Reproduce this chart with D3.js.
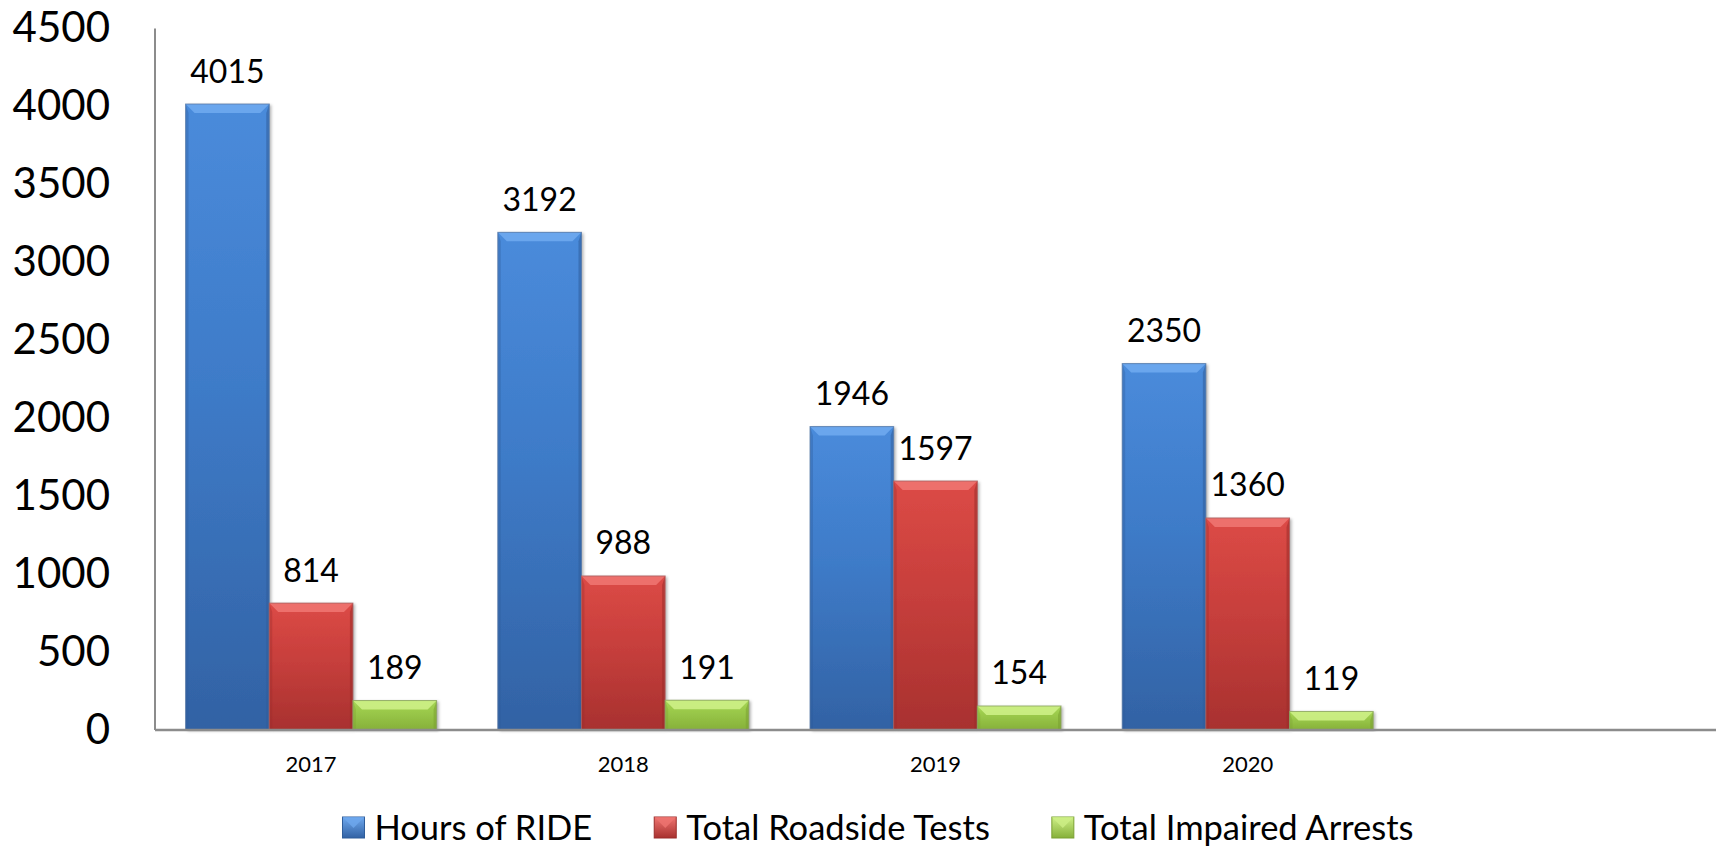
<!DOCTYPE html>
<html>
<head>
<meta charset="utf-8">
<script src="https://cdn.jsdelivr.net/npm/d3@7"></script>
<style>
  html, body { margin: 0; padding: 0; background: #fff; }
  svg { display: block; font-family: Lato, "Open Sans", sans-serif; }
</style>
</head>
<body>
<svg id="chart" width="1716" height="846"></svg>
<script>
// ---- data ----
const categories = ["2017", "2018", "2019", "2020", ""];   // last slot is empty in the original
const seriesNames = ["Hours of RIDE", "Total Roadside Tests", "Total Impaired Arrests"];
const hoursOfRide = [4015, 3192, 1946, 2350];
const roadsideTests = [814, 988, 1597, 1360];
const impairedArrests = [189, 191, 154, 119];
const yTicks = [0, 500, 1000, 1500, 2000, 2500, 3000, 3500, 4000, 4500];

const seriesValues = [hoursOfRide, roadsideTests, impairedArrests];
const palette = [
  { top: "#4a8bdb", mid: "#3e7bc8", bot: "#3262a4", bevel: "#6ea8ee", side: "#2f5d9a", stroke: "#5a7ba6" },
  { top: "#dc4a46", mid: "#c73f3c", bot: "#a8312f", bevel: "#ee7470", side: "#9a2c2a", stroke: "#a86060" },
  { top: "#a6d656", mid: "#98c648", bot: "#86b03a", bevel: "#cdef86", side: "#7aa132", stroke: "#8aa060" }
];

const svg = d3.select("#chart");
const W = 1716, H = 846;
const axisX = 155, baseY = 730, topY = 28.4;

const x = d3.scaleBand().domain(categories).range([axisX, W]).paddingInner(0.196).paddingOuter(0.098);
const xs = d3.scaleBand().domain(seriesNames).range([0, x.bandwidth()]).padding(0);
const y = d3.scaleLinear().domain([0, 4500]).range([baseY, topY]);

// defs: gradients + shadow
const defs = svg.append("defs");
palette.forEach((p, i) => {
  const g = defs.append("linearGradient").attr("id", "grad" + i).attr("x1", 0).attr("y1", 0).attr("x2", 0).attr("y2", 1);
  g.append("stop").attr("offset", "0%").attr("stop-color", p.top);
  g.append("stop").attr("offset", "45%").attr("stop-color", p.mid);
  g.append("stop").attr("offset", "100%").attr("stop-color", p.bot);
  const lg = defs.append("linearGradient").attr("id", "lgrad" + i).attr("x1", 0).attr("y1", 0).attr("x2", 0).attr("y2", 1);
  lg.append("stop").attr("offset", "0%").attr("stop-color", p.bevel);
  lg.append("stop").attr("offset", "100%").attr("stop-color", p.bot);
});
const f = defs.append("filter").attr("id", "shadow").attr("x", "-10%").attr("y", "-10%").attr("width", "130%").attr("height", "120%");
f.append("feDropShadow").attr("dx", 2).attr("dy", 1).attr("stdDeviation", 1.5).attr("flood-color", "#000").attr("flood-opacity", 0.3);

// axes lines
svg.append("line").attr("x1", axisX).attr("x2", axisX).attr("y1", y(4500)).attr("y2", baseY)
  .attr("stroke", "#8c8c8c").attr("stroke-width", 2);

const yAxis = svg.append("g").attr("transform", `translate(${axisX},0)`)
  .call(d3.axisLeft(y).tickValues(yTicks).tickSize(0).tickPadding(45).tickFormat(d3.format("d")));
yAxis.select(".domain").remove();
yAxis.selectAll("text").attr("font-size", 42).attr("fill", "#000").attr("font-family", "Lato, sans-serif");

// bars
const data = [];
categories.forEach((c, ci) => {
  seriesValues.forEach((vals, si) => {
    if (vals[ci] != null) data.push({ cat: c, si, value: vals[ci] });
  });
});

const bars = svg.append("g").selectAll("g.bar").data(data).join("g").attr("class", "bar");
bars.each(function(d) {
  const g = d3.select(this);
  const p = palette[d.si];
  const x0 = x(d.cat) + xs(seriesNames[d.si]);
  const w = xs.bandwidth();
  const x1 = x0 + w;
  const y0 = y(d.value), y1 = y(0);
  const h = y1 - y0;
  const b = Math.min(9, h / 2);
  const s = 3;
  g.append("rect").attr("x", x0).attr("y", y0).attr("width", w).attr("height", h)
    .attr("fill", `url(#grad${d.si})`).attr("filter", "url(#shadow)");
  // top bevel
  g.append("path").attr("d", `M${x0},${y0}L${x1},${y0}L${x1 - b},${y0 + b}L${x0 + b},${y0 + b}Z`)
    .attr("fill", p.bevel).attr("opacity", 0.9);
  // side bevels
  g.append("path").attr("d", `M${x0},${y0}L${x0 + s},${y0 + b}L${x0 + s},${y1}L${x0},${y1}Z`)
    .attr("fill", p.side).attr("opacity", 0.35);
  g.append("path").attr("d", `M${x1},${y0}L${x1 - s},${y0 + b}L${x1 - s},${y1}L${x1},${y1}Z`)
    .attr("fill", p.side).attr("opacity", 0.55);
  g.append("rect").attr("x", x0).attr("y", y0).attr("width", w).attr("height", h)
    .attr("fill", "none").attr("stroke", p.stroke).attr("stroke-width", 1).attr("opacity", 0.8);
  // value label
  g.append("text").attr("x", x0 + w / 2).attr("y", y0 - 21.5).attr("text-anchor", "middle")
    .attr("font-size", 32).attr("fill", "#000").text(d.value);
});

// x axis line
svg.append("line").attr("x1", axisX).attr("x2", W).attr("y1", baseY).attr("y2", baseY)
  .attr("stroke", "#8c8c8c").attr("stroke-width", 2.5);

// x labels
const xAxis = svg.append("g").attr("transform", `translate(0,${baseY})`)
  .call(d3.axisBottom(x).tickSize(0).tickPadding(26));
xAxis.select(".domain").remove();
xAxis.selectAll("text").attr("font-size", 22).attr("fill", "#000").attr("font-family", "Lato, sans-serif");

// legend
const legend = svg.append("g");
const legendY = 828;
const items = legend.selectAll("g").data(seriesNames).join("g");
items.append("rect").attr("x", 0).attr("y", legendY - 11).attr("width", 22).attr("height", 21)
  .attr("fill", (d, i) => `url(#lgrad${i})`).attr("stroke", (d, i) => palette[i].side).attr("stroke-width", 1);
items.append("path")
  .attr("d", `M0,${legendY - 11}L22,${legendY - 11}L11,${legendY}Z`)
  .attr("fill", (d, i) => palette[i].bevel).attr("opacity", 0.8);
items.append("text").attr("x", 32).attr("y", legendY).attr("dy", "0.35em")
  .attr("font-size", 34.5).attr("fill", "#000").text(d => d);

const gap = 62;
const widths = [];
items.each(function() {
  const tw = d3.select(this).select("text").node().getComputedTextLength();
  widths.push(32 + tw);
});
const total = d3.sum(widths) + gap * (widths.length - 1);
let start = 878 - total / 2;
items.attr("transform", (d, i) => {
  const t = `translate(${start},0)`;
  start += widths[i] + gap;
  return t;
});
</script>
</body>
</html>
